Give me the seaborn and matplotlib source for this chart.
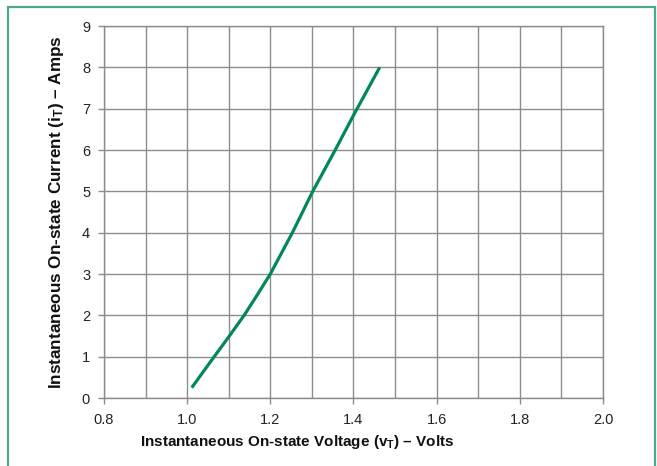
import numpy as np
import pandas as pd
import matplotlib
matplotlib.use('Agg')
import matplotlib.pyplot as plt
import seaborn as sns
from matplotlib.patches import Rectangle
from matplotlib.ticker import MultipleLocator

# on-state voltage (V) vs instantaneous current (A)
voltage = [1.011, 1.039, 1.065, 1.100, 1.137, 1.167, 1.200, 1.253, 1.302, 1.356, 1.400, 1.463]
current = [0.25, 0.64, 1.00, 1.48, 2.00, 2.47, 3.00, 4.00, 5.00, 6.00, 6.84, 8.00]

x_ticks = [0.8, 1.0, 1.2, 1.4, 1.6, 1.8, 2.0]
y_ticks = [0, 1, 2, 3, 4, 5, 6, 7, 8, 9]

df = pd.DataFrame({'vt': voltage, 'it': current})

sns.set_theme(style='white')
plt.rcParams['font.family'] = ['Liberation Sans', 'DejaVu Sans']
plt.rcParams['mathtext.fontset'] = 'custom'
plt.rcParams['mathtext.rm'] = 'Liberation Sans:bold'

grid_col = '#8c8c8c'
line_col = '#00875a'
frame_col = '#4fa982'

fig = plt.figure(figsize=(6.57, 4.66), dpi=100)
ax = fig.add_axes([104 / 657, 1 - 398 / 466, 499 / 657, 372 / 466])

sns.lineplot(data=df, x='vt', y='it', ax=ax, color=line_col, linewidth=2.3,
             solid_capstyle='butt', solid_joinstyle='round')

ax.set_xlim(0.8, 2.0)
ax.set_ylim(0, 9)
ax.set_xticks(x_ticks)
ax.set_xticklabels([f'{v:.1f}' for v in x_ticks])
ax.set_yticks(y_ticks)
ax.xaxis.set_minor_locator(MultipleLocator(0.1))

ax.grid(True, which='both', color=grid_col, linewidth=1.0)
ax.set_axisbelow(True)
for s in ax.spines.values():
    s.set_visible(True)
    s.set_color(grid_col)
    s.set_linewidth(1.0)

ax.tick_params(axis='both', which='major', direction='out', length=4, width=1,
               color=grid_col, labelsize=10.5, labelcolor='#222222')
ax.tick_params(axis='x', which='major', pad=7, bottom=True)
ax.tick_params(axis='y', which='major', pad=6, left=True)
ax.tick_params(axis='x', which='minor', length=0)

ax.set_xlabel(r'Instantaneous On-state Voltage (v$\mathregular{_T}$) – Volts',
              fontsize=11, fontweight='bold', color='#111111')
ax.set_ylabel(r'Instantaneous On-state Current (i$\mathregular{_T}$) – Amps',
              fontsize=12.3, fontweight='bold', color='#111111')
ax.xaxis.set_label_coords((297 - 104) / 499, -(442 - 398) / 372, transform=ax.transAxes)
ax.yaxis.set_label_coords(-(104 - 57) / 499, 0.5, transform=ax.transAxes)
ax.xaxis.label.set_va('center')
ax.yaxis.label.set_va('center')

# green frame around the figure (open at the bottom edge)
fig.patches.append(Rectangle((8 / 657, -0.05), 647 / 657, 1.05 - 7 / 466,
                             transform=fig.transFigure, fill=False,
                             edgecolor=frame_col, linewidth=1.6))

fig.savefig('out.png', dpi=100)
